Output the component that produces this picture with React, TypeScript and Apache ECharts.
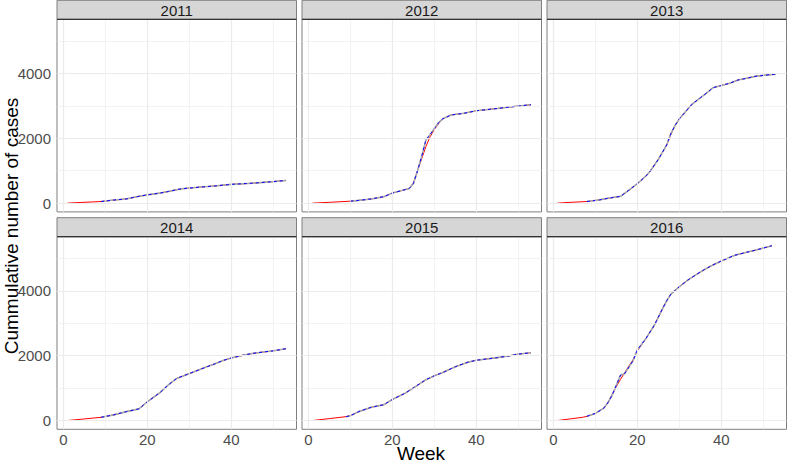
import React, { useEffect, useRef } from "react";
import * as echarts from "echarts";

const years = ["2011", "2012", "2013", "2014", "2015", "2016"];

// [week, cumulative cases] — red solid (fitted) and gray/blue dashed (observed)
const fitted2011 = [[1, 0], [4, 20], [7, 38], [9, 50], [12, 95], [15, 130], [18, 210], [20, 256], [23, 310], [25, 360], [28, 440], [30, 465], [33, 500], [36, 530], [40, 580], [45, 615], [50, 665], [53, 700]];
const observed2011 = [[9, 50], [12, 95], [15, 130], [18, 210], [20, 256], [23, 310], [25, 360], [28, 440], [30, 465], [33, 500], [36, 530], [40, 580], [45, 615], [50, 665], [53, 700]];

const fitted2012 = [[1, 0], [5, 25], [10, 60], [12, 85], [15, 130], [18, 200], [20, 310], [22, 380], [24, 450], [25, 620], [26, 1000], [27, 1380], [28, 1750], [29, 2050], [30, 2270], [31, 2450], [32, 2600], [34, 2720], [37, 2770], [40, 2850], [45, 2920], [50, 2995], [53, 3035]];
const observed2012 = [[10, 60], [12, 85], [15, 130], [18, 200], [20, 310], [22, 380], [24, 450], [25, 600], [26, 1000], [27, 1450], [28, 1950], [29, 2120], [30, 2300], [31, 2480], [32, 2600], [34, 2720], [37, 2770], [40, 2850], [45, 2920], [50, 2995], [53, 3035]];

const fitted2013 = [[1, 0], [4, 25], [8, 50], [11, 100], [13, 150], [16, 210], [18, 400], [20, 600], [22, 830], [23, 975], [25, 1350], [27, 1800], [28, 2130], [29, 2400], [30, 2600], [31, 2750], [33, 3050], [35, 3250], [37, 3450], [38, 3560], [40, 3630], [42, 3700], [44, 3800], [46, 3850], [48, 3910], [50, 3940], [53, 3980]];
const observed2013 = [[8, 50], [11, 100], [13, 150], [16, 210], [18, 400], [20, 600], [22, 830], [23, 975], [25, 1350], [27, 1800], [28, 2150], [29, 2400], [30, 2600], [31, 2750], [33, 3050], [35, 3250], [37, 3450], [38, 3560], [40, 3630], [42, 3700], [44, 3800], [46, 3850], [48, 3910], [50, 3940], [53, 3980]];

const fitted2014 = [[1, 0], [5, 50], [9, 100], [12, 175], [15, 275], [18, 360], [20, 580], [23, 860], [25, 1100], [27, 1300], [29, 1400], [31, 1500], [34, 1650], [36, 1745], [38, 1850], [40, 1930], [43, 2020], [45, 2070], [48, 2120], [50, 2150], [53, 2215]];
const observed2014 = [[9, 100], [12, 175], [15, 275], [18, 360], [20, 580], [23, 860], [25, 1100], [27, 1300], [29, 1400], [31, 1500], [34, 1650], [36, 1745], [38, 1850], [40, 1930], [43, 2020], [45, 2070], [48, 2120], [50, 2150], [53, 2215]];

const fitted2015 = [[1, 0], [5, 60], [9, 120], [10, 150], [12, 275], [15, 410], [18, 490], [20, 650], [23, 840], [26, 1090], [28, 1260], [30, 1380], [32, 1480], [35, 1660], [38, 1800], [40, 1860], [45, 1940], [48, 2000], [50, 2050], [53, 2090]];
const observed2015 = [[9, 120], [10, 150], [12, 275], [15, 410], [18, 490], [20, 650], [23, 840], [26, 1090], [28, 1260], [30, 1380], [32, 1480], [35, 1660], [38, 1800], [40, 1860], [45, 1940], [48, 2000], [50, 2050], [53, 2090]];

const fitted2016 = [[1, 0], [4, 50], [7, 100], [8, 130], [10, 220], [12, 380], [13, 560], [14, 800], [15, 1050], [16, 1270], [17, 1480], [18, 1680], [19, 1880], [20, 2150], [22, 2520], [24, 2930], [26, 3450], [27, 3700], [28, 3900], [30, 4130], [32, 4330], [34, 4500], [36, 4660], [38, 4800], [40, 4920], [43, 5090], [46, 5190], [48, 5250], [52, 5390]];
const observed2016 = [[8, 130], [10, 220], [12, 380], [13, 550], [14, 780], [16, 1400], [17, 1450], [19, 1850], [20, 2180], [22, 2520], [24, 2930], [26, 3450], [27, 3700], [28, 3900], [30, 4130], [32, 4330], [34, 4500], [36, 4660], [38, 4800], [40, 4920], [43, 5090], [46, 5190], [48, 5250], [52, 5390]];

const fittedByYear = [fitted2011, fitted2012, fitted2013, fitted2014, fitted2015, fitted2016];
const observedByYear = [observed2011, observed2012, observed2013, observed2014, observed2015, observed2016];

const xMajorTicks = [0, 20, 40];
const xMinorTicks = [10, 30, 50];
const yMajorTicks = [0, 2000, 4000];
const yMinorTicks = [1000, 3000, 5000];

const X_MIN = -1.5;
const X_MAX = 55.5;
const Y_MIN = -270;
const Y_MAX = 5670;

const FAMILY = "'Liberation Sans', Arial, Helvetica, sans-serif";

const colLeft = [57, 302, 547];
const panelW = 239.5;
const rowTop = [19.3, 236.7];
const panelH = 192.6;
const stripH = 19;

export default function App() {
  const ref = useRef<HTMLDivElement>(null);

  useEffect(() => {
    if (!ref.current) return;
    const chart = echarts.init(ref.current, null, { renderer: "svg" });

    const grids: any[] = [];
    const xAxes: any[] = [];
    const yAxes: any[] = [];
    const series: any[] = [];
    const graphics: any[] = [];

    years.forEach((yr, i) => {
      const r = Math.floor(i / 3);
      const c = i % 3;
      const left = colLeft[c];
      const top = rowTop[r];
      grids.push({
        left,
        top,
        width: panelW,
        height: panelH,
        show: true,
        backgroundColor: "#ffffff",
        borderColor: "#7f7f7f",
        borderWidth: 1,
        containLabel: false,
      });
      const bottomRow = r === 1;
      const leftCol = c === 0;
      xAxes.push({
        type: "value",
        gridIndex: i,
        min: X_MIN,
        max: X_MAX,
        axisLine: { show: false },
        splitLine: { show: false },
        axisTick: {
          show: bottomRow,
          customValues: xMajorTicks,
          length: 4,
          lineStyle: { color: "#555555", width: 1 },
        },
        axisLabel: {
          show: bottomRow,
          customValues: xMajorTicks,
          formatter: (v: number) => String(v),
          color: "#4D4D4D",
          fontSize: 15,
          fontFamily: FAMILY,
          margin: 3,
        },
      });
      yAxes.push({
        type: "value",
        gridIndex: i,
        min: Y_MIN,
        max: Y_MAX,
        axisLine: { show: false },
        splitLine: { show: false },
        axisTick: {
          show: leftCol,
          customValues: yMajorTicks,
          length: 4,
          lineStyle: { color: "#555555", width: 1 },
        },
        axisLabel: {
          show: leftCol,
          customValues: yMajorTicks,
          formatter: (v: number) => String(v),
          color: "#4D4D4D",
          fontSize: 15,
          fontFamily: FAMILY,
          margin: 6,
        },
      });

      const major = { type: "solid", color: "#EBEBEB", width: 1.2 };
      const minor = { type: "solid", color: "#EBEBEB", width: 0.6 };
      series.push({
        type: "line",
        xAxisIndex: i,
        yAxisIndex: i,
        data: fittedByYear[i],
        showSymbol: false,
        silent: true,
        z: 0,
        lineStyle: { opacity: 0 },
        markLine: {
          silent: true,
          symbol: ["none", "none"],
          label: { show: false },
          animation: false,
          data: [
            ...xMinorTicks.map((v) => ({ xAxis: v, lineStyle: minor })),
            ...yMinorTicks.map((v) => ({ yAxis: v, lineStyle: minor })),
            ...xMajorTicks.map((v) => ({ xAxis: v, lineStyle: major })),
            ...yMajorTicks.map((v) => ({ yAxis: v, lineStyle: major })),
          ],
        },
      });
      series.push({
        type: "line",
        xAxisIndex: i,
        yAxisIndex: i,
        data: fittedByYear[i],
        showSymbol: false,
        silent: true,
        z: 2,
        lineStyle: { color: "#FF0000", width: 1 },
      });
      series.push({
        type: "line",
        xAxisIndex: i,
        yAxisIndex: i,
        data: observedByYear[i],
        showSymbol: false,
        silent: true,
        z: 3,
        lineStyle: { color: "#ABABAB", width: 1.6 },
      });
      series.push({
        type: "line",
        xAxisIndex: i,
        yAxisIndex: i,
        data: observedByYear[i],
        showSymbol: false,
        silent: true,
        z: 4,
        lineStyle: { color: "#0000FF", width: 1, type: [3, 3] },
      });

      // facet strip
      const stripTop = top - stripH;
      graphics.push({
        type: "rect",
        shape: { x: left, y: stripTop, width: panelW, height: stripH },
        style: { fill: "#D6D6D6", stroke: "#7f7f7f", lineWidth: 1 },
        z: 10,
      });
      graphics.push({
        type: "line",
        shape: { x1: left, y1: top, x2: left + panelW, y2: top },
        style: { stroke: "#333333", lineWidth: 1.2 },
        z: 11,
      });
      graphics.push({
        type: "text",
        style: {
          text: yr,
          x: left + panelW / 2,
          y: stripTop + stripH / 2 + 0.5,
          align: "center",
          verticalAlign: "middle",
          fill: "#1A1A1A",
          fontSize: 15,
          fontFamily: FAMILY,
        },
        z: 12,
      });
    });

    graphics.push({
      type: "text",
      style: {
        text: "Week",
        x: 421,
        y: 453,
        align: "center",
        verticalAlign: "middle",
        fill: "#000000",
        fontSize: 19,
        fontFamily: FAMILY,
      },
    });
    graphics.push({
      type: "text",
      x: 11,
      y: 226,
      rotation: Math.PI / 2,
      style: {
        text: "Cummulative number of cases",
        x: 0,
        y: 0,
        align: "center",
        verticalAlign: "middle",
        fill: "#000000",
        fontSize: 19,
        fontFamily: FAMILY,
      },
    });

    chart.setOption({
      animation: false,
      backgroundColor: "#ffffff",
      grid: grids,
      xAxis: xAxes,
      yAxis: yAxes,
      series,
      graphic: graphics,
    });

    return () => chart.dispose();
  }, []);

  return (
    <div
      ref={ref}
      style={{ position: "absolute", left: 0, top: 0, width: 787, height: 463 }}
    />
  );
}
